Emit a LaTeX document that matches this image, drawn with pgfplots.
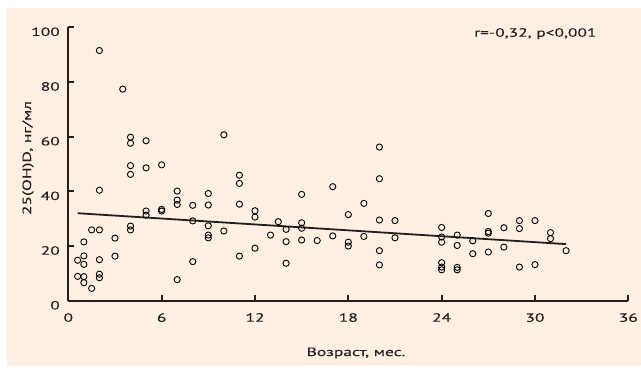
\documentclass[border=0pt]{standalone}
\usepackage{pgfplots}
\pgfplotsset{compat=1.18}
\usepackage{fontspec}
\setmainfont{PT Sans}[FakeStretch=1.46, FakeBold=0.15]
\definecolor{bgpeach}{RGB}{253,240,227}
\definecolor{axdark}{RGB}{35,31,32}
\begin{document}
\begin{tikzpicture}[x=1bp,y=1bp]
\path[use as bounding box] (-68.3,-66.3) rectangle (572.7,300.7);
\fill[white] (-68.3,-66.3) rectangle (572.7,300.7);
\fill[bgpeach] (-61.3,-65.3) rectangle (572.7,292.7);
\begin{axis}[
  at={(0,0)}, anchor=origin,
  scale only axis, width=560bp, height=273.4bp,
  xmin=0, xmax=36, ymin=0, ymax=100,
  axis lines=left, axis line style={-, line width=2.2bp, color=axdark},
  xtick={0,6,...,36}, ytick={0,20,...,100},
  tick align=inside, major tick length=6bp,
  tick style={line width=2bp, color=axdark},
  /pgf/number format/assume math mode=true,
  tick label style={font=\fontsize{12}{14}\selectfont, text=axdark},
  xticklabel style={yshift=-9bp},
  yticklabel style={xshift=-5bp, yshift=-4.5bp},
  clip=false,
]
\addplot[only marks, mark=o, mark size=3.1bp, mark options={draw=black, fill=white, line width=0.9bp}] table {
x y
0.6 14.8
0.6 8.9
1 21.5
1 16.4
1 13.3
1 8.8
1 6.6
1.5 25.9
1.5 4.5
2 91.5
2 40.4
2 25.9
2 15.0
2 9.7
2 8.4
3 22.9
3 16.3
3.5 77.4
4 59.8
4 57.6
4 49.4
4 46.2
4 27.3
4 25.9
5 58.5
5 48.6
5 32.8
5 31.3
6 49.7
6 33.4
6 32.8
7 40.1
7 36.8
7 35.2
7 7.7
8 34.9
8 29.2
8 14.3
9 39.2
9 35.0
9 27.4
9 24.0
9 23.0
10 60.7
10 25.5
11 45.9
11 42.9
11 35.3
11 16.3
12 32.9
12 30.6
12 19.2
13 24.0
13.5 28.9
14 26.1
14 21.6
14 13.7
15 38.9
15 28.5
15 26.5
15 22.2
16 22.0
17 41.7
17 23.7
18 31.5
18 21.4
18 20.0
19 35.6
19 23.5
20 56.2
20 44.6
20 29.5
20 18.3
20 13.1
21 29.3
21 23.0
24 26.8
24 23.3
24 21.4
24 13.9
24 12.3
24 11.3
25 24.0
25 20.2
25 12.2
25 11.3
26 21.9
26 17.2
27 31.9
27 25.3
27 24.7
27 17.8
28 26.7
28 19.6
29 29.3
29 26.4
29 12.3
30 29.3
30 13.2
31 24.9
31 22.7
32 18.3
};
\addplot[line width=1.8bp, color=axdark] coordinates {(0.6,32.0) (32,20.7)};
\end{axis}
\node[anchor=base east, inner sep=0, font=\fontsize{12}{14}\selectfont, text=axdark] at (528.4,264) {r=-0,32, p<0,001};
\node[anchor=base, inner sep=0, font=\fontsize{12}{14}\selectfont, text=axdark] at (287.7,-55.3) {Возраст, мес.};
\node[anchor=base, rotate=90, inner sep=0, font=\fontsize{12}{14}\selectfont, text=axdark] at (-37.3,142.7) {25(OH)D, нг/мл};
\end{tikzpicture}
\end{document}
